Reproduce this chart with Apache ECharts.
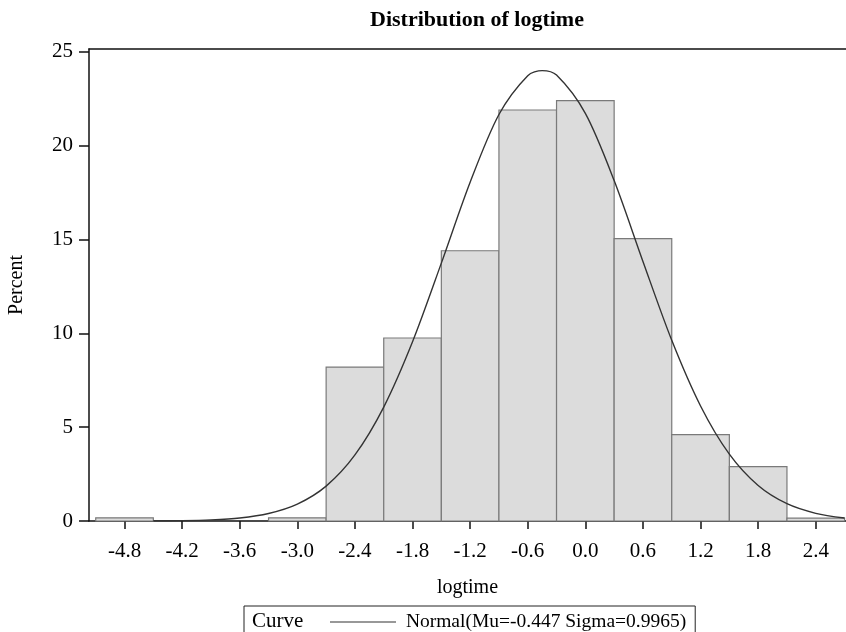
<!DOCTYPE html>
<html lang="en">
<head>
    <meta charset="UTF-8">
    <title>Distribution of logtime</title>
    <script src="https://cdn.jsdelivr.net/npm/echarts@6/dist/echarts.min.js"></script>
    <style>
        *{
            margin: 0;
            padding: 0;
        }
        html,body{
            width: 100%;
            height: 100%;
            overflow: hidden;
            background: #fff;
        }
        .container{
            width: 846px;
            height: 632px;
        }
    </style>
</head>
<body>
<div class="container"></div>
<script>
    // histogram bins (midpoints, width 0.6) and their percent
    const binMids = [-4.8, -4.2, -3.6, -3.0, -2.4, -1.8, -1.2, -0.6, 0.0, 0.6, 1.2, 1.8, 2.4];
    const binPct = [0.17, 0, 0, 0.17, 8.2, 9.75, 14.4, 21.9, 22.4, 15.05, 4.6, 2.9, 0.15];
    const binWidth = 0.6;

    // fitted normal curve
    const curveX = [-4.5, -4.2, -3.9, -3.6, -3.3, -3.0, -2.7, -2.4, -2.1, -1.8, -1.5, -1.2, -0.9, -0.6, -0.45, -0.3, 0.0, 0.3, 0.6, 0.9, 1.2, 1.5, 1.8, 2.1, 2.4, 2.7];
    const curveY = [0.01, 0.02, 0.06, 0.16, 0.4, 0.9, 1.86, 3.52, 6.07, 9.55, 13.74, 18.05, 21.66, 23.73, 24.0, 23.76, 21.72, 18.14, 13.83, 9.63, 6.13, 3.56, 1.89, 0.92, 0.41, 0.16];

    const xTicks = [-4.8, -4.2, -3.6, -3.0, -2.4, -1.8, -1.2, -0.6, 0.0, 0.6, 1.2, 1.8, 2.4];
    const yTicks = [0, 5, 10, 15, 20, 25];
    const curveName = 'Normal(Mu=-0.447 Sigma=0.9965)';

    const serif = "'Liberation Serif', 'Times New Roman', serif";

    window.onload = function () {
        let chart = echarts.init(document.querySelector('.container'));

        let bins = binMids.map((m, i) => [m - binWidth / 2, m + binWidth / 2, binPct[i]]);
        let curve = curveX.map((x, i) => [x, curveY[i]]);

        let options = {
            animation: false,
            title: {
                text: 'Distribution of logtime',
                left: 472,
                textAlign: 'center',
                top: 4,
                textStyle: {fontFamily: serif, fontSize: 22, fontWeight: 'bold', color: '#000'}
            },
            grid: {left: 89, right: 0, top: 49, bottom: 111, outerBoundsMode: 'none'},
            xAxis: [{
                type: 'value',
                min: -5.17,
                max: 2.715,
                name: 'logtime',
                nameLocation: 'middle',
                nameGap: 57,
                nameTextStyle: {fontFamily: serif, fontSize: 20, color: '#000'},
                axisLine: {onZero: false, lineStyle: {color: '#111', width: 1.5}},
                axisTick: {customValues: xTicks, length: 8, lineStyle: {color: '#111', width: 1.5}},
                axisLabel: {
                    customValues: xTicks,
                    margin: 20,
                    fontFamily: serif, fontSize: 21, color: '#000',
                    formatter: v => v.toFixed(1)
                },
                splitLine: {show: false}
            }, {
                type: 'value',
                position: 'top',
                min: -5.17,
                max: 2.715,
                axisLine: {show: true, onZero: false, lineStyle: {color: '#111', width: 1.5}},
                axisTick: {show: false},
                axisLabel: {show: false},
                splitLine: {show: false}
            }],
            yAxis: {
                type: 'value',
                min: 0,
                max: 25.15,
                name: 'Percent',
                nameLocation: 'middle',
                nameGap: 62,
                nameTextStyle: {fontFamily: serif, fontSize: 20, color: '#000'},
                axisLine: {show: true, onZero: false, lineStyle: {color: '#111', width: 1.5}},
                axisTick: {show: true, customValues: yTicks, length: 10, lineStyle: {color: '#111', width: 1.5}},
                axisLabel: {customValues: yTicks, margin: 16, fontFamily: serif, fontSize: 21, color: '#000'},
                splitLine: {show: false}
            },
            legend: {
                data: [curveName],
                left: 244,
                top: 606,
                icon: 'rect',
                itemWidth: 66,
                itemHeight: 1,
                itemGap: 0,
                itemStyle: {color: '#333'},
                borderColor: '#222',
                borderWidth: 1,
                padding: [6, 9, 30, 86],
                formatter: name => ' ' + name,
                textStyle: {fontFamily: serif, fontSize: 19.5, color: '#000'}
            },
            graphic: [{
                type: 'text',
                left: 252,
                top: 611,
                style: {text: 'Curve', font: '21px ' + serif, fill: '#000'}
            }],
            series: [{
                type: 'custom',
                name: 'bins',
                data: bins,
                encode: {x: [0, 1], y: 2},
                renderItem: function (params, api) {
                    let h = api.value(2);
                    if (!h) return null;
                    let p0 = api.coord([api.value(0), h]);
                    let p1 = api.coord([api.value(1), 0]);
                    return {
                        type: 'rect',
                        shape: {x: p0[0], y: p0[1], width: p1[0] - p0[0], height: p1[1] - p0[1]},
                        style: {fill: '#dcdcdc', stroke: '#7a7a7a', lineWidth: 1.2}
                    };
                }
            }, {
                type: 'line',
                name: curveName,
                data: curve,
                smooth: 0.3,
                symbol: 'none',
                lineStyle: {color: '#333', width: 1.4},
                z: 5
            }]
        };

        chart.setOption(options);
    };
</script>
</body>
</html>
